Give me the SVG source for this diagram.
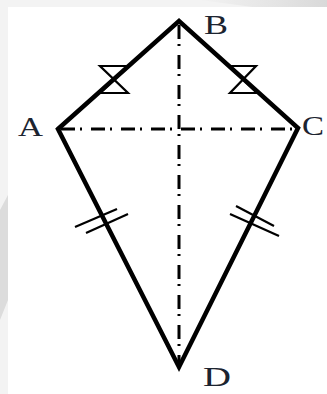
<svg xmlns="http://www.w3.org/2000/svg" width="327" height="394" viewBox="0 0 327 394">
<defs>
<linearGradient id="swoosh" x1="0" y1="0" x2="1" y2="0">
<stop offset="0" stop-color="#f2f2f2"/>
<stop offset="0.6" stop-color="#e4e4e4"/>
<stop offset="1" stop-color="#d9d9d9"/>
</linearGradient>
<style>
.kite{fill:none;stroke:#000;stroke-width:4.5;stroke-linejoin:miter}
.axis{fill:none;stroke:#000;stroke-width:3;stroke-dasharray:14 5 2 9}
.tick{fill:none;stroke:#000;stroke-width:2.2}
.lbl{font-family:"Liberation Serif","Times New Roman",serif;font-size:27px;fill:#1c2430}
</style>
</defs>
<rect x="0" y="0" width="327" height="394" fill="#f3f3f3"/>
<polygon points="200,0 327,0 327,22 260,8" fill="url(#swoosh)"/>
<polygon points="0,210 8,195 8,300 0,320" fill="#dcdcdc"/>
<rect x="8" y="7" width="319" height="387" fill="#fff"/>
<g id="connectors">
<line class="axis" x1="179" y1="25" x2="179" y2="364"/>
<line class="axis" x1="61" y1="129" x2="295" y2="129"/>
</g>
<g id="kite">
<polygon class="kite" points="58,129 179,21 298,128 179,367"/>
</g>
<g id="marks">
<polygon class="tick" points="100,66 129,66 100,93 128,93"/>
<polygon class="tick" points="229,66 256,66 230,93 257,93"/>
<line class="tick" x1="75" y1="227" x2="117" y2="209"/>
<line class="tick" x1="86" y1="233" x2="128" y2="214"/>
<line class="tick" x1="236" y1="206" x2="274" y2="226"/>
<line class="tick" x1="230" y1="214" x2="279" y2="236"/>
</g>
<g id="node-A"><text class="lbl" x="18" y="136" textLength="25" lengthAdjust="spacingAndGlyphs">A</text></g>
<g id="node-B"><text class="lbl" x="204" y="34" textLength="24" lengthAdjust="spacingAndGlyphs">B</text></g>
<g id="node-C"><text class="lbl" x="302" y="135" textLength="22" lengthAdjust="spacingAndGlyphs">C</text></g>
<g id="node-D"><text class="lbl" x="203" y="386" textLength="28" lengthAdjust="spacingAndGlyphs">D</text></g>
</svg>
